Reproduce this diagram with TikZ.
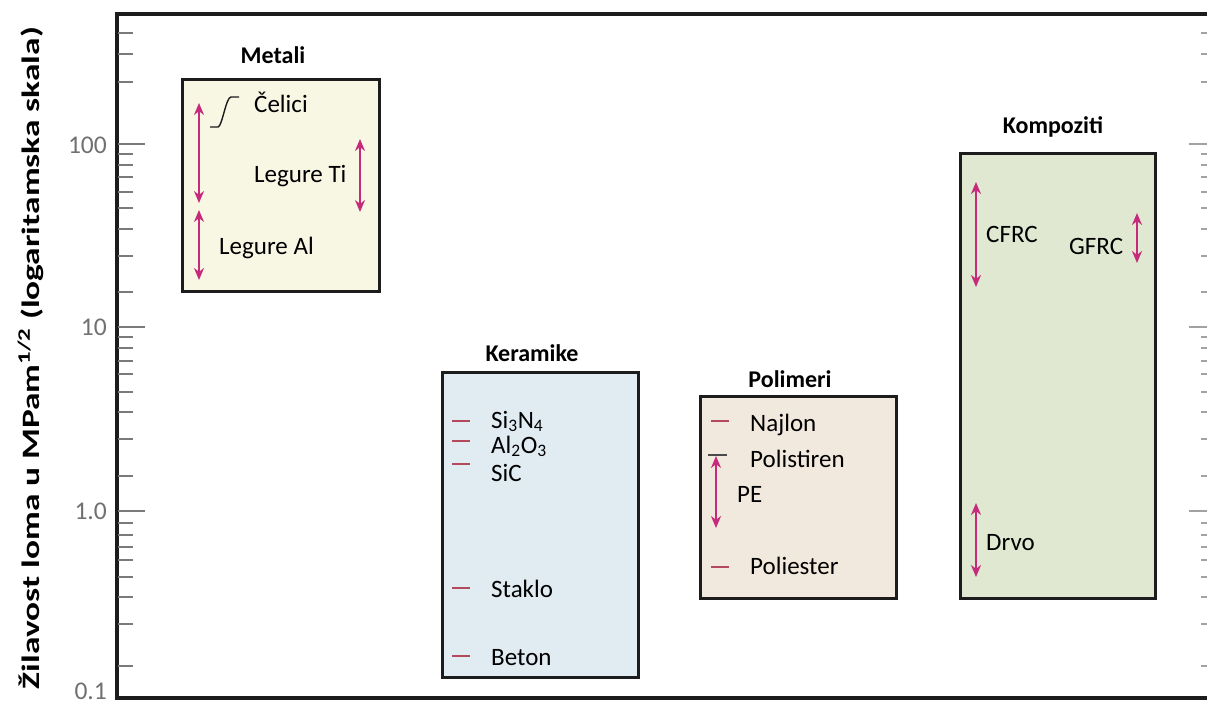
\documentclass[tikz,border=0pt]{standalone}
\usepackage{fontspec}
\setmainfont{Carlito}
\usetikzlibrary{arrows.meta}

\definecolor{framecol}{HTML}{1C1C1C}
\definecolor{tickcol}{HTML}{7A7A7A}
\definecolor{ticklabel}{HTML}{707070}
\definecolor{rangecol}{HTML}{C52A7B}
\definecolor{dashcol}{HTML}{B4485C}
\definecolor{metalfill}{HTML}{F8F7E4}
\definecolor{ceramfill}{HTML}{E1EBF2}
\definecolor{polyfill}{HTML}{F2E9DE}
\definecolor{compfill}{HTML}{E0E8D2}

\begin{document}
\begin{tikzpicture}[x=1pt,y=-1pt,
  panel/.style={draw=framecol, line width=3pt, anchor=north west, inner sep=0pt},
  grouptitle/.style={font=\fontsize{24}{28}\selectfont\bfseries, anchor=base, inner sep=0pt},
  matlabel/.style={font=\fontsize{25}{29}\selectfont, anchor=base west, inner sep=0pt},
  axisnum/.style={font=\fontsize{25.5}{29}\selectfont, text=ticklabel, anchor=east, inner sep=0pt},
  spanarrow/.style={draw=rangecol, line width=2.9pt,
    {Stealth[length=12pt,width=10pt]}-{Stealth[length=12pt,width=10pt]}},
  dashmark/.style={draw=dashcol, line width=2pt},
  minortick/.style={draw=tickcol, line width=1.5pt},
  majortick/.style={draw=tickcol, line width=1.6pt}]

\useasboundingbox (0,0) rectangle (1207,704);
\fill[white] (0,0) rectangle (1207,704);

% axis frame and logarithmic tick marks (the right edge lies just past the page)
\begin{scope}
  \clip (0,0) rectangle (1207,704);
  \draw[framecol, line width=3.5pt] (1216,14) -- (117,14) -- (117,698) -- (1216,698) -- cycle;
  \foreach \yy in {33,54,82,154,165,177,192,208,229,256,292,
                   337,348,361,374,392,412,439,476,
                   523,535,547,560,577,597,624,666} {
    \draw[minortick] (118,\yy) -- (133,\yy);
    \draw[minortick, draw=tickcol!70] (1214,\yy) -- (1201,\yy);
  }
  \foreach \yy in {144,327,511} {
    \draw[majortick] (118,\yy) -- (145,\yy);
    \draw[majortick, draw=tickcol!70] (1214,\yy) -- (1189,\yy);
  }
\end{scope}

% axis numbers
\node[axisnum] (v100) at (107,145) {100};
\node[axisnum] (v10)  at (107,327) {10};
\node[axisnum] (v1)   at (107,511) {1.0};
\node[axisnum] (v01)  at (107,691) {0.1};

% axis title, stretched along its length
\node[font=\fontsize{25}{29}\selectfont\bfseries, rotate=90, anchor=base, inner sep=0pt] (ylabel) at (39,358)
  {\resizebox{662pt}{\height}{Žilavost loma u MPam\textsuperscript{1/2} (logaritamska skala)}};

% material groups
\node[panel, fill=metalfill, minimum width=197pt, minimum height=212pt] (metali) at (181,78) {};
\node[panel, fill=ceramfill, minimum width=196pt, minimum height=305pt] (keramike) at (441,371) {};
\node[panel, fill=polyfill,  minimum width=196pt, minimum height=202pt] (polimeri) at (699,395) {};
\node[panel, fill=compfill,  minimum width=195pt, minimum height=445pt] (kompoziti) at (959,152) {};

\node[grouptitle] (tmetali) at (273,63) {Metali};
\node[grouptitle] (tkeramike) at (532,361) {Keramike};
\node[grouptitle] (tpolimeri) at (790,387) {Polimeri};
\node[grouptitle] (tkompoziti) at (1053,133) {Kompoziti};

% metals
\draw[spanarrow] (199,103) -- (199,203);
\draw[spanarrow] (199,210) -- (199,280);
\draw[spanarrow] (360,139) -- (360,212);
\draw[framecol, line width=1.4pt] (210,127) -- (218,127) .. controls (222,127) and (226,97) .. (231,97) -- (239,97);
\node[matlabel] (celici) at (254,112) {Čelici};
\node[matlabel] (ti) at (254,182) {Legure Ti};
\node[matlabel] (al) at (219,254) {Legure Al};

% ceramics
\foreach \yy in {421,441,464,588,656} \draw[dashmark] (452,\yy) -- (470,\yy);
\node[matlabel] (si3n4) at (491,428) {Si\textsubscript{3}N\textsubscript{4}};
\node[matlabel] (al2o3) at (491,453) {Al\textsubscript{2}O\textsubscript{3}};
\node[matlabel] (sic) at (491,481) {SiC};
\node[matlabel] (staklo) at (491,597) {Staklo};
\node[matlabel] (beton) at (491,665) {Beton};

% polymers
\foreach \yy in {421,567} \draw[dashmark] (711,\yy) -- (729,\yy);
\draw[draw=framecol!80, line width=2pt] (708,455) -- (727,455);
\draw[spanarrow] (716,456) -- (716,528);
\node[matlabel] (najlon) at (750,431) {Najlon};
\node[matlabel] (polistiren) at (750,467) {Polistiren};
\node[matlabel] (pe) at (737,502) {PE};
\node[matlabel] (poliester) at (750,574) {Poliester};

% composites
\draw[spanarrow] (976,182) -- (976,287);
\draw[spanarrow] (1137,213) -- (1137,263);
\draw[spanarrow] (976,503) -- (976,577);
\node[matlabel] (cfrc) at (986,242) {CFRC};
\node[matlabel] (gfrc) at (1069,254) {GFRC};
\node[matlabel] (drvo) at (986,550) {Drvo};

\end{tikzpicture}
\end{document}
